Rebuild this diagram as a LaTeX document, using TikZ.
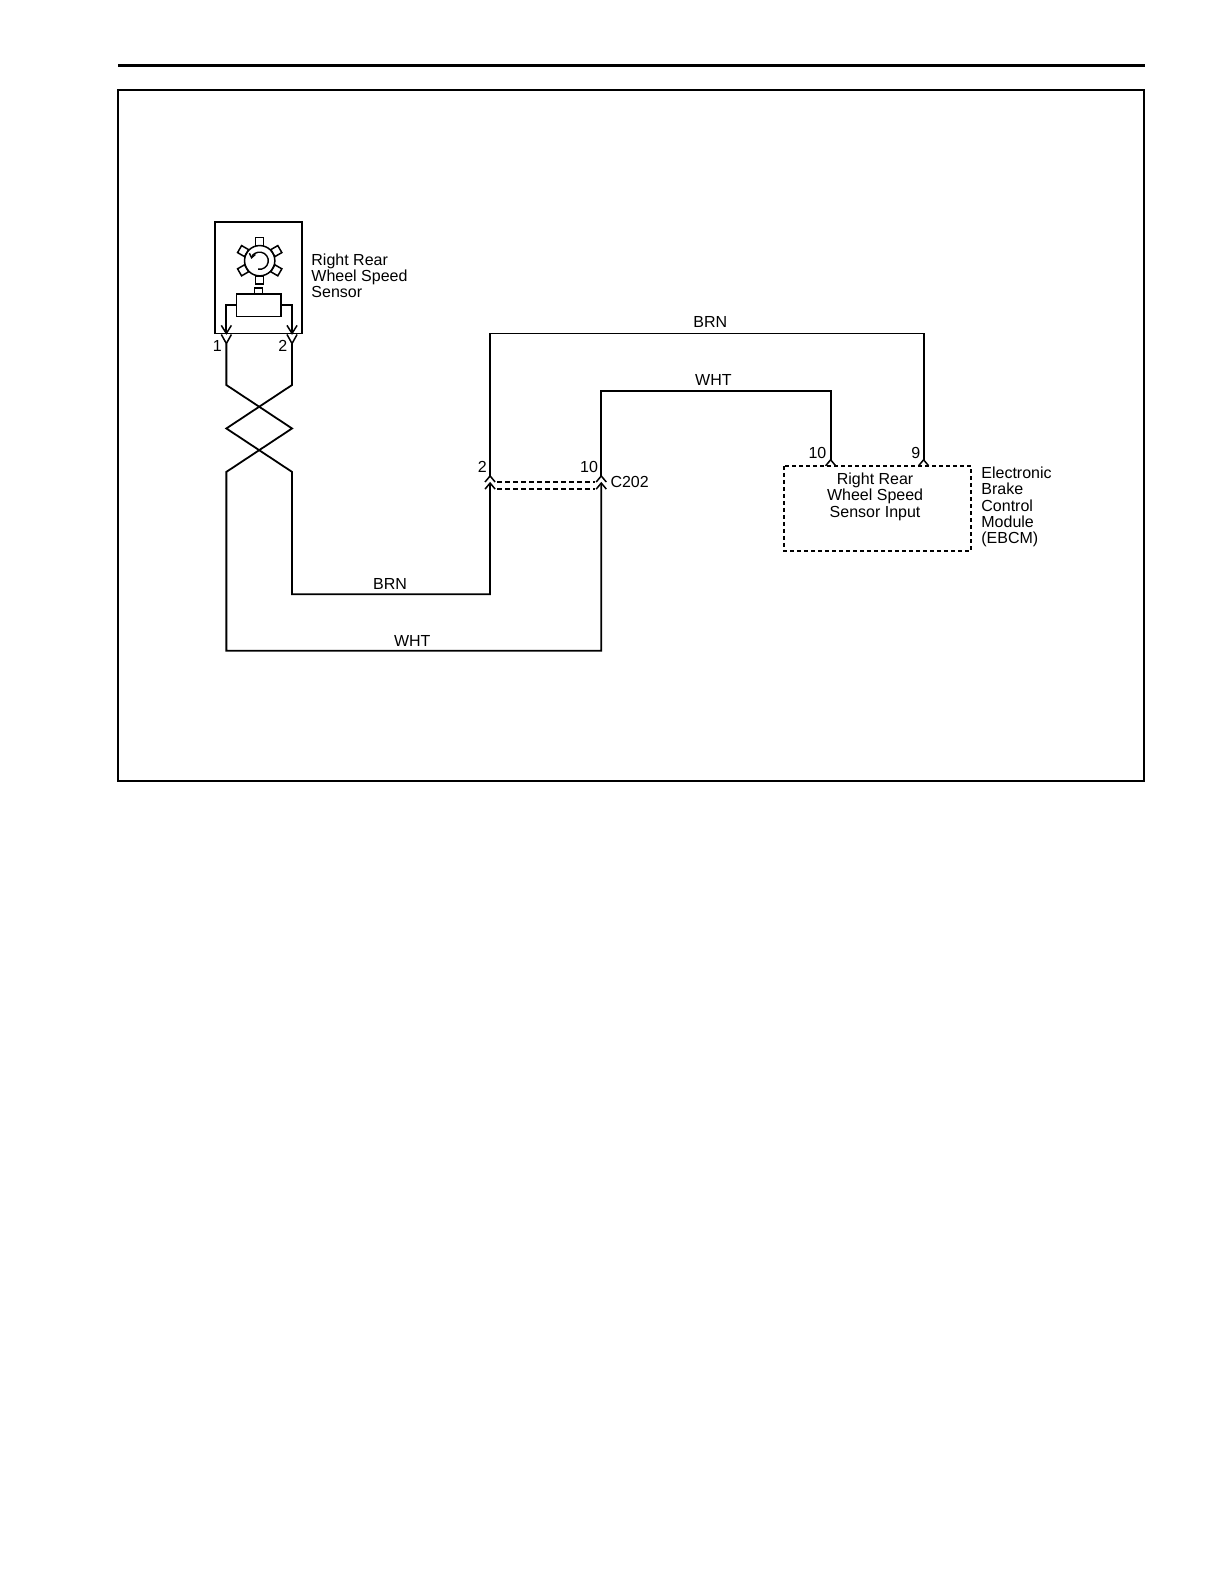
\documentclass[tikz,border=0pt]{standalone}
\usepackage{fontspec}
\setmainfont{Liberation Sans}
\usetikzlibrary{arrows.meta,calc}
\begin{document}
\begin{tikzpicture}[x=1.0105pt,y=-1.0105pt,
  wire/.style={line width=1.8pt,line join=miter},
  lbl/.style={inner sep=0pt,font=\fontsize{16}{16.2}\selectfont},
  chev/.style={line width=1.5pt},
  dashw/.style={line width=1.5pt,dash pattern=on 5pt off 3pt},
  dashbox/.style={line width=1.6pt,dash pattern=on 4pt off 3pt}]
\useasboundingbox (0pt,0pt) rectangle (1224pt,-1584pt);
% header rule and frame
\draw[line width=3.2pt] (117,65) -- (1133,65);
\draw[line width=2.2pt] (117,89) rectangle (1132,773);
\draw[line width=1.5pt,draw={rgb,255:red,20;green,20;blue,140}] (127,1575) -- (267,1575);

% sensor box
\draw[wire] (213,220) rectangle (299,330);
% gear
\coordinate (g) at (257,258);
\draw[line width=1.5pt] (g) circle (15);
\foreach \a in {90,30,150,210,330,270}{
  \draw[line width=1.5pt,rotate around={\a-90:(g)}] ($(g)+(-4,-15)$) rectangle ($(g)+(4,-23)$);
}
\draw[line width=1.4pt,-{Straight Barb[length=4pt,width=6pt]}] ($(g)+(100:8.5)$) arc[start angle=100,end angle=-168,radius=8.5];
% magnet
\draw[line width=1.5pt] (234,291) rectangle (278,313);
\draw[line width=1.5pt] (252,285) rectangle (260,291);
\draw[wire] (234,302) -- (224,302) -- (224,330);
\draw[wire] (278,302) -- (289,302) -- (289,330);
\draw[chev] (219,322) -- (224,330) -- (229,322);
\draw[chev] (284,322) -- (289,330) -- (294,322);
\draw[chev] (219,331) -- (224,340) -- (229,331);
\draw[chev] (284,331) -- (289,340) -- (294,331);
\node[lbl,anchor=base] (p1) at (215,348) {1};
\node[lbl,anchor=base] (p2) at (280,348) {2};
\node[lbl,anchor=north west,align=left] (sname) at (308,251) {Right Rear\\Wheel Speed\\Sensor};

% twisted pair
\coordinate (a1) at (224,340);
\coordinate (a2) at (289,340);
\draw[wire] (a1) -- (224,381) -- (289,424) -- (224,467) -- (224,644) -- (595,644) -- (595,478);
\draw[wire] (a2) -- (289,381) -- (224,424) -- (289,467) -- (289,588) -- (485,588) -- (485,478);

% C202
\draw[chev] (480,477) -- (485,471) -- (490,477);
\draw[chev] (480,484) -- (485,478) -- (490,484);
\draw[chev] (590,477) -- (595,471) -- (600,477);
\draw[chev] (590,484) -- (595,478) -- (600,484);
\draw[dashw] (492,477) -- (589,477);
\draw[dashw] (492,484) -- (589,484);
\node[lbl,anchor=base east] (c2) at (482,468) {2};
\node[lbl,anchor=base east] (c10) at (592,468) {10};
\node[lbl,anchor=base west] (cn) at (604,482) {C202};

% upper wires
\draw[wire] (485,471) -- (485,330) -- (914,330) -- (914,455);
\draw[wire] (595,471) -- (595,387) -- (822,387) -- (822,455);
\node[lbl,anchor=base] (brn1) at (703,324) {BRN};
\node[lbl,anchor=base] (wht1) at (706,381) {WHT};
\node[lbl,anchor=base] (brn2) at (386,583) {BRN};
\node[lbl,anchor=base] (wht2) at (408,640) {WHT};

% EBCM
\draw[dashbox] (776,461) rectangle (961,545);
\draw[chev] (817,461) -- (822,455) -- (827,461);
\draw[chev] (909,461) -- (914,455) -- (919,461);
\node[lbl,anchor=base east] (e10) at (818,454) {10};
\node[lbl,anchor=base east] (e9) at (911,454) {9};
\node[lbl,anchor=north,align=center] (ein) at (866,468) {Right Rear\\Wheel Speed\\Sensor Input};
\node[lbl,anchor=north west,align=left] (ename) at (971,462) {Electronic\\Brake\\Control\\Module\\(EBCM)};
\end{tikzpicture}
\end{document}
